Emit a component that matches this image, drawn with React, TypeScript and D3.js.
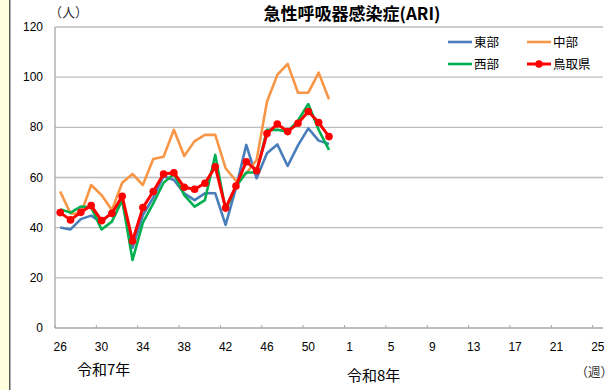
import * as d3 from 'd3';

// weeks: R7 wk26..53, R8 wk1..25
const weeks = [
  ...d3.range(26, 54).map((w) => String(w)),
  ...d3.range(1, 26).map((w) => 'R8-' + w),
];
const weekLabel = (w: string) => w.replace('R8-', '');

const east = [40.1, 39.3, 43.4, 44.8, 42, 46.4, 50.5, 32, 45, 52, 60.5, 59, 53.7, 51, 53.7, 53.7, 41.1, 55.8, 73, 59.7, 69.7, 73.2, 64.6, 72.8, 79.6, 74.7, 73.4];
const central = [54.4, 45.7, 45.5, 57, 53, 47, 57.9, 61.4, 57, 67.4, 68.3, 79, 68.6, 74.5, 77, 77, 63.7, 58.7, 61.7, 67, 90.2, 100.9, 105.3, 93.8, 93.8, 101.8, 91.2];
const west = [47.3, 46, 48.4, 48.1, 39.3, 42.4, 51, 27.1, 42, 49.7, 57.9, 61.4, 53, 48.4, 51, 69, 47, 56.3, 62, 62, 79, 79, 78.3, 82.7, 89.3, 79, 71];
const tottori = [46, 43.1, 46.1, 48.8, 42.8, 45.7, 52.5, 34.7, 48, 54.4, 61.4, 61.9, 56.1, 55.3, 57.7, 64.3, 47.8, 56.6, 66.3, 62.7, 77.5, 81.3, 78.3, 81.6, 86.3, 81.9, 76.3];
const yTicks = [0, 20, 40, 60, 80, 100, 120];

const series = [
  { name: '東部', values: east, color: '#4A7EBB' },
  { name: '中部', values: central, color: '#F79646' },
  { name: '西部', values: west, color: '#00B050' },
  { name: '鳥取県', values: tottori, color: '#FF0000' },
];

const W = 614;
const H = 390;
const left = 55;
const right = 603;
const top = 27;
const bottom = 328;
const numFont = '"Liberation Sans", Arial, sans-serif';
const jpFont = '"Noto Sans CJK JP", sans-serif';

export default function App() {
  const x = d3.scaleBand().domain(weeks).range([left, right]).padding(0);
  const y = d3.scaleLinear().domain([0, 120]).range([bottom, top]);
  const bw = x.bandwidth();
  const cx = (i: number) => (x(weeks[i]) ?? 0) + bw / 2;

  const line = d3
    .line<number>()
    .x((_, i) => cx(i))
    .y((d) => y(d));

  const tickIdx = weeks.map((_, i) => i).filter((i) => i % 4 === 0);

  return (
    <svg width={W} height={H} style={{ position: 'absolute', left: 0, top: 0, background: '#fff' }}>
      <rect x={0} y={0} width={9.5} height={H} fill="#FFFFDD" />
      <line x1={9.8} x2={9.8} y1={0} y2={H} stroke="#333" strokeWidth={1.2} />

      <text x={352} y={19.5} textAnchor="middle" fontFamily={jpFont} fontWeight="bold" fontSize={17} fill="#000">
        急性呼吸器感染症(ARI)
      </text>
      <text x={49} y={17} fontFamily={jpFont} fontSize={13} fill="#333">（人）</text>

      {/* gridlines */}
      {yTicks.slice(1).map((t) => (
        <line key={t} x1={left} x2={right} y1={y(t)} y2={y(t)} stroke="#BDBDBD" strokeWidth={1.3} />
      ))}
      {yTicks.map((t) => (
        <text key={'yl' + t} x={43} y={y(t) + 4} textAnchor="end" fontFamily={numFont} fontSize={12} fill="#000">
          {t}
        </text>
      ))}

      {/* axes */}
      <line x1={left} x2={left} y1={top} y2={bottom} stroke="#A6A6A6" strokeWidth={1.3} />
      <line x1={left} x2={right} y1={bottom} y2={bottom} stroke="#A6A6A6" strokeWidth={1.3} />
      {tickIdx.map((i) => (
        <g key={'xt' + i}>
          <line x1={x(weeks[i])} x2={x(weeks[i])} y1={bottom} y2={bottom - 3} stroke="#A6A6A6" strokeWidth={1} />
          <text x={cx(i)} y={351} textAnchor="middle" fontFamily={numFont} fontSize={12} fill="#000">
            {weekLabel(weeks[i])}
          </text>
        </g>
      ))}

      <text x={77} y={375} fontFamily={jpFont} fontSize={15} fill="#000">令和7年</text>
      <text x={347} y={381} fontFamily={jpFont} fontSize={15} fill="#000">令和8年</text>
      <text x={613} y={377} textAnchor="end" fontFamily={jpFont} fontSize={12.5} fill="#333">（週）</text>

      {/* series */}
      {series.map((s) => (
        <path key={s.name} d={line(s.values) ?? ''} fill="none" stroke={s.color} strokeWidth={s.name === '鳥取県' ? 3 : 2.6} strokeLinejoin="round" />
      ))}
      {tottori.map((v, i) => (
        <circle key={'p' + i} cx={cx(i)} cy={y(v)} r={3.8} fill="#FF0000" />
      ))}

      {/* legend */}
      {series.map((s, i) => {
        const lx = i % 2 === 0 ? 448 : 527;
        const ly = i < 2 ? 42 : 64;
        return (
          <g key={'lg' + s.name}>
            <line x1={lx} x2={lx + 24} y1={ly} y2={ly} stroke={s.color} strokeWidth={s.name === '鳥取県' ? 3 : 2.6} />
            {s.name === '鳥取県' && <circle cx={lx + 12} cy={ly} r={3.8} fill="#FF0000" />}
            <text x={lx + 26} y={ly + 4.5} fontFamily={jpFont} fontSize={12.5} fill="#000">
              {s.name}
            </text>
          </g>
        );
      })}
    </svg>
  );
}
